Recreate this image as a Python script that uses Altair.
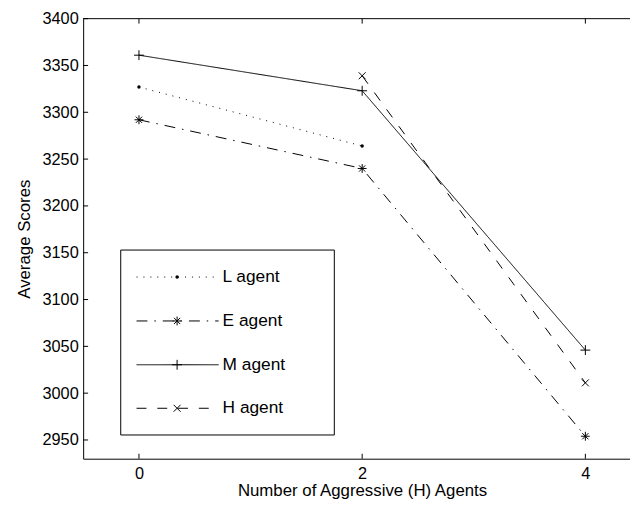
import altair as alt
import pandas as pd

# ---- data ----
x_vals = [0, 2, 4]
series = ["L agent", "E agent", "M agent", "H agent"]
L_vals = [3327, 3264, None]
E_vals = [3292, 3240, 2954]
M_vals = [3361, 3323, 3046]
H_vals = [None, 3339, 3011]
x_ticks = [0, 2, 4]
y_ticks = [2950, 3000, 3050, 3100, 3150, 3200, 3250, 3300, 3350, 3400]

# ---- styling / layout ----
W, H = 553, 445
FONT = "Liberation Sans"
dash_range = [[1, 6], [11, 7, 1.5, 7], [1, 0], [10, 11]]
shape_map = {
    "L agent": ("circle", 12, True),
    "E agent": ("M-1,0H1M0,-1V1M-0.7,-0.7L0.7,0.7M-0.7,0.7L0.7,-0.7", 81, False),
    "M agent": ("M-1,0H1M0,-1V1", 100, False),
    "H agent": ("M-1,-1L1,1M-1,1L1,-1", 49, False),
}
legend_rows = [261.3, 305.7, 350, 394]

rows = []
for s, vals in zip(series, [L_vals, E_vals, M_vals, H_vals]):
    for x, v in zip(x_vals, vals):
        if v is not None:
            rows.append({"agent": s, "n": x, "score": v})
df = pd.DataFrame(rows)
one = pd.DataFrame({"a": [0]})

xs = alt.Scale(domain=[-0.5, 4.4], nice=False, zero=False)
ys = alt.Scale(domain=[2930, 3400], nice=False, zero=False)
dash_scale = alt.Scale(domain=series, range=dash_range)

x_axis = alt.Axis(
    values=x_ticks, format="d", grid=False, ticks=False, tickSize=0,
    labelFont=FONT, labelFontSize=16.5, labelColor="black", labelPadding=7,
    labelFlush=False, labelOverlap=False,
    domainColor="black", domainWidth=1,
    title="Number of Aggressive (H) Agents", titleFont=FONT, titleFontSize=17,
    titleFontWeight="normal", titleColor="black",
    titleX=282, titleY=37.5, titleAlign="center", titleBaseline="alphabetic",
)
y_axis = alt.Axis(
    values=y_ticks, format="d", grid=False, ticks=False, tickSize=0,
    labelFont=FONT, labelFontSize=16.5, labelColor="black", labelPadding=5,
    labelOverlap=False, labelFlush=False,
    domainColor="black", domainWidth=1,
    title="Average Scores", titleFont=FONT, titleFontSize=17,
    titleFontWeight="normal", titleColor="black",
    titleX=-59, titleY=H / 2, titleAngle=270, titleAlign="center",
    titleBaseline="middle",
)

lines = alt.Chart(df).mark_line(color="black", strokeWidth=1).encode(
    x=alt.X("n:Q", scale=xs, axis=x_axis),
    y=alt.Y("score:Q", scale=ys, axis=y_axis),
    strokeDash=alt.StrokeDash("agent:N", scale=dash_scale, legend=None),
    detail="agent:N",
)

layers = [lines]
for s in series:
    shp, sz, fl = shape_map[s]
    layers.append(
        alt.Chart(df).transform_filter(alt.datum.agent == s)
        .mark_point(shape=shp, size=sz, filled=fl, color="black",
                    strokeWidth=1, opacity=1)
        .encode(x=alt.X("n:Q", scale=xs, axis=x_axis),
                y=alt.Y("score:Q", scale=ys, axis=y_axis))
    )

xt = pd.DataFrame({"t": x_ticks})
yt = pd.DataFrame({"t": y_ticks})
layers.append(alt.Chart(xt).mark_rule(color="black", strokeWidth=1).encode(
    x=alt.X("t:Q", scale=xs, axis=x_axis), y=alt.value(H), y2=alt.value(H - 5)))
layers.append(alt.Chart(xt).mark_rule(color="black", strokeWidth=1).encode(
    x=alt.X("t:Q", scale=xs, axis=x_axis), y=alt.value(0), y2=alt.value(5)))
layers.append(alt.Chart(yt).mark_rule(color="black", strokeWidth=1).encode(
    y=alt.Y("t:Q", scale=ys, axis=y_axis), x=alt.value(0), x2=alt.value(5)))
# top border of the box
layers.append(alt.Chart(one).mark_rule(color="black", strokeWidth=1).encode(
    x=alt.value(0), x2=alt.value(W), y=alt.value(0)))

# legend box
layers.append(alt.Chart(one).mark_rect(fill="white", stroke="black", strokeWidth=1).encode(
    x=alt.value(38), x2=alt.value(254), y=alt.value(234), y2=alt.value(421)))
for s, ly, dash in zip(series, legend_rows, dash_range):
    shp, sz, fl = shape_map[s]
    layers.append(alt.Chart(one).mark_rule(color="black", strokeWidth=1, strokeDash=dash).encode(
        x=alt.value(54), x2=alt.value(137), y=alt.value(ly)))
    layers.append(alt.Chart(one).mark_point(shape=shp, size=sz, filled=fl, color="black",
                                            strokeWidth=1, opacity=1).encode(
        x=alt.value(95), y=alt.value(ly)))
    layers.append(alt.Chart(one).mark_text(align="left", baseline="middle", font=FONT,
                                           fontSize=17.5, color="black").encode(
        x=alt.value(141), y=alt.value(ly), text=alt.value(s)))

chart = alt.layer(*layers).properties(
    width=W, height=H,
    autosize=alt.AutoSizeParams(type="none"),
    padding={"left": 76, "top": 8, "right": 0, "bottom": 41},
).configure_view(stroke=None)

chart.save("out.html", embed_options={"renderer": "svg", "actions": False})
